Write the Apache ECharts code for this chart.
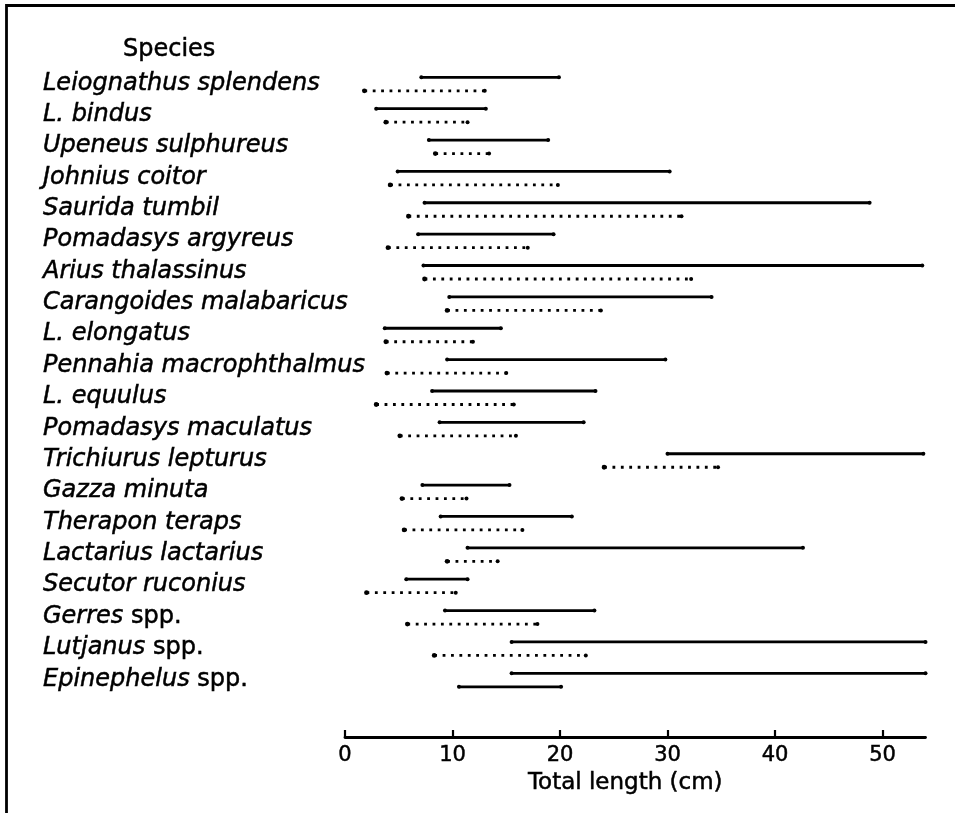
<!DOCTYPE html>
<html>
<head>
<meta charset="utf-8">
<script src="https://cdn.jsdelivr.net/npm/echarts@6/dist/echarts.min.js"></script>
<style>
  html, body { margin: 0; padding: 0; background: #fff; }
  #chart { width: 955px; height: 813px; }
</style>
</head>
<body>
<div id="chart"></div>
<script>
// ---- Data ----
const species = [
  'Leiognathus splendens', 'L. bindus', 'Upeneus sulphureus', 'Johnius coitor',
  'Saurida tumbil', 'Pomadasys argyreus', 'Arius thalassinus', 'Carangoides malabaricus',
  'L. elongatus', 'Pennahia macrophthalmus', 'L. equulus', 'Pomadasys maculatus',
  'Trichiurus lepturus', 'Gazza minuta', 'Therapon teraps', 'Lactarius lactarius',
  'Secutor ruconius', 'Gerres spp.', 'Lutjanus spp.', 'Epinephelus spp.'
];
// upper (solid) length ranges, cm
const upperMin = [7.1, 2.9, 7.8, 4.9, 7.4, 6.8, 7.3, 9.7, 3.7, 9.5, 8.1, 8.8, 30.0, 7.2, 8.9, 11.4, 5.7, 9.3, 15.5, 15.5];
const upperMax = [19.9, 13.1, 18.9, 30.2, 48.8, 19.4, 53.7, 34.1, 14.5, 29.8, 23.3, 22.2, 53.8, 15.3, 21.1, 42.6, 11.4, 23.2, 54.0, 54.0];
// lower (dotted) length ranges, cm
const lowerMin = [1.8, 3.8, 8.4, 4.2, 5.9, 4.0, 7.4, 9.5, 3.8, 3.9, 2.9, 5.1, 24.1, 5.3, 5.5, 9.5, 2.0, 5.8, 8.3, 10.6];
const lowerMax = [13.0, 11.4, 13.4, 19.8, 31.3, 17.0, 32.2, 23.8, 11.9, 15.0, 15.7, 15.9, 34.7, 11.3, 16.5, 14.2, 10.3, 17.9, 22.4, 20.1];
// species whose lower range is printed as a plain line in the source
const lowerDrawnSolid = ['Epinephelus spp.'];
// x axis
const xMin = 0, xMax = 54, xStep = 10;
const xTitle = 'Total length (cm)';
const yTitle = 'Species';

// ---- Chart ----
const FONT = 'DejaVu Sans';
const INK = { color: '#000', textBorderColor: '#000', textBorderWidth: 0.5 };
const chart = echarts.init(document.getElementById('chart'), null, { renderer: 'canvas' });

function rangeRenderer(offset) {
  return function (params, api) {
    const idx = api.value(0);
    const a = api.coord([api.value(1), idx]);
    const b = api.coord([api.value(2), idx]);
    const y = a[1] + offset;
    const dotted = api.value(3) === 1;
    return {
      type: 'group',
      children: [
        {
          type: 'line',
          shape: { x1: a[0], y1: y, x2: b[0], y2: y },
          style: { stroke: '#000', lineWidth: 2.8, lineDash: dotted ? [2.8, 5.6] : null, lineCap: 'butt' }
        },
        { type: 'circle', shape: { cx: a[0], cy: y, r: dotted ? 2.4 : 2 }, style: { fill: '#000' } },
        { type: 'circle', shape: { cx: b[0], cy: y, r: 2 }, style: { fill: '#000' } }
      ]
    };
  };
}

const upperData = species.map((s, i) => [i, upperMin[i], upperMax[i], 0]);
const lowerData = species.map((s, i) => [i, lowerMin[i], lowerMax[i], lowerDrawnSolid.includes(s) ? 0 : 1]);

const option = {
  animation: false,
  backgroundColor: '#fff',
  title: {
    text: yTitle,
    left: 123,
    top: 38,
    padding: 0,
    textStyle: Object.assign({ fontFamily: FONT, fontSize: 24, fontWeight: 'normal' }, INK)
  },
  grid: { left: 345, width: 580.5, top: 61.6, height: 627.4, containLabel: false },
  xAxis: {
    type: 'value',
    min: xMin, max: xMax, interval: xStep,
    offset: 48,
    splitLine: { show: false },
    axisLine: { show: true, lineStyle: { color: '#000', width: 2.8 } },
    axisTick: { show: true, inside: true, length: 7, lineStyle: { color: '#000', width: 2.2 } },
    axisLabel: Object.assign({ show: true, showMaxLabel: false, margin: 8, fontFamily: FONT, fontSize: 21 }, INK),
    name: xTitle,
    nameLocation: 'middle',
    nameGap: 26,
    nameTextStyle: Object.assign({ fontFamily: FONT, fontSize: 23, verticalAlign: 'top', padding: [0, 20, 0, 0] }, INK)
  },
  yAxis: {
    type: 'category',
    data: species,
    inverse: true,
    axisLine: { show: false },
    axisTick: { show: false },
    splitLine: { show: false },
    axisLabel: {
      show: true,
      interval: 0,
      align: 'left',
      margin: 302,
      padding: [12, 0, 0, 0],
      color: '#000',
      fontFamily: FONT,
      fontSize: 24,
      formatter: function (v) {
        if (/ spp\.$/.test(v)) {
          return '{i|' + v.replace(/ spp\.$/, '') + '}{n| spp.}';
        }
        return '{i|' + v + '}';
      },
      rich: {
        i: Object.assign({ fontStyle: 'italic', fontFamily: FONT, fontSize: 24 }, INK),
        n: Object.assign({ fontStyle: 'normal', fontFamily: FONT, fontSize: 24 }, INK)
      }
    }
  },
  graphic: [
    {
      type: 'polyline',
      shape: { points: [[6.5, 813], [6.5, 5.5], [955, 5.5]] },
      style: { stroke: '#000', lineWidth: 2.8, fill: null }
    }
  ],
  series: [
    {
      name: 'upper',
      type: 'custom',
      renderItem: rangeRenderer(0),
      encode: { x: [1, 2], y: 0 },
      data: upperData
    },
    {
      name: 'lower',
      type: 'custom',
      renderItem: rangeRenderer(13.5),
      encode: { x: [1, 2], y: 0 },
      data: lowerData
    }
  ]
};
chart.setOption(option);
</script>
</body>
</html>
